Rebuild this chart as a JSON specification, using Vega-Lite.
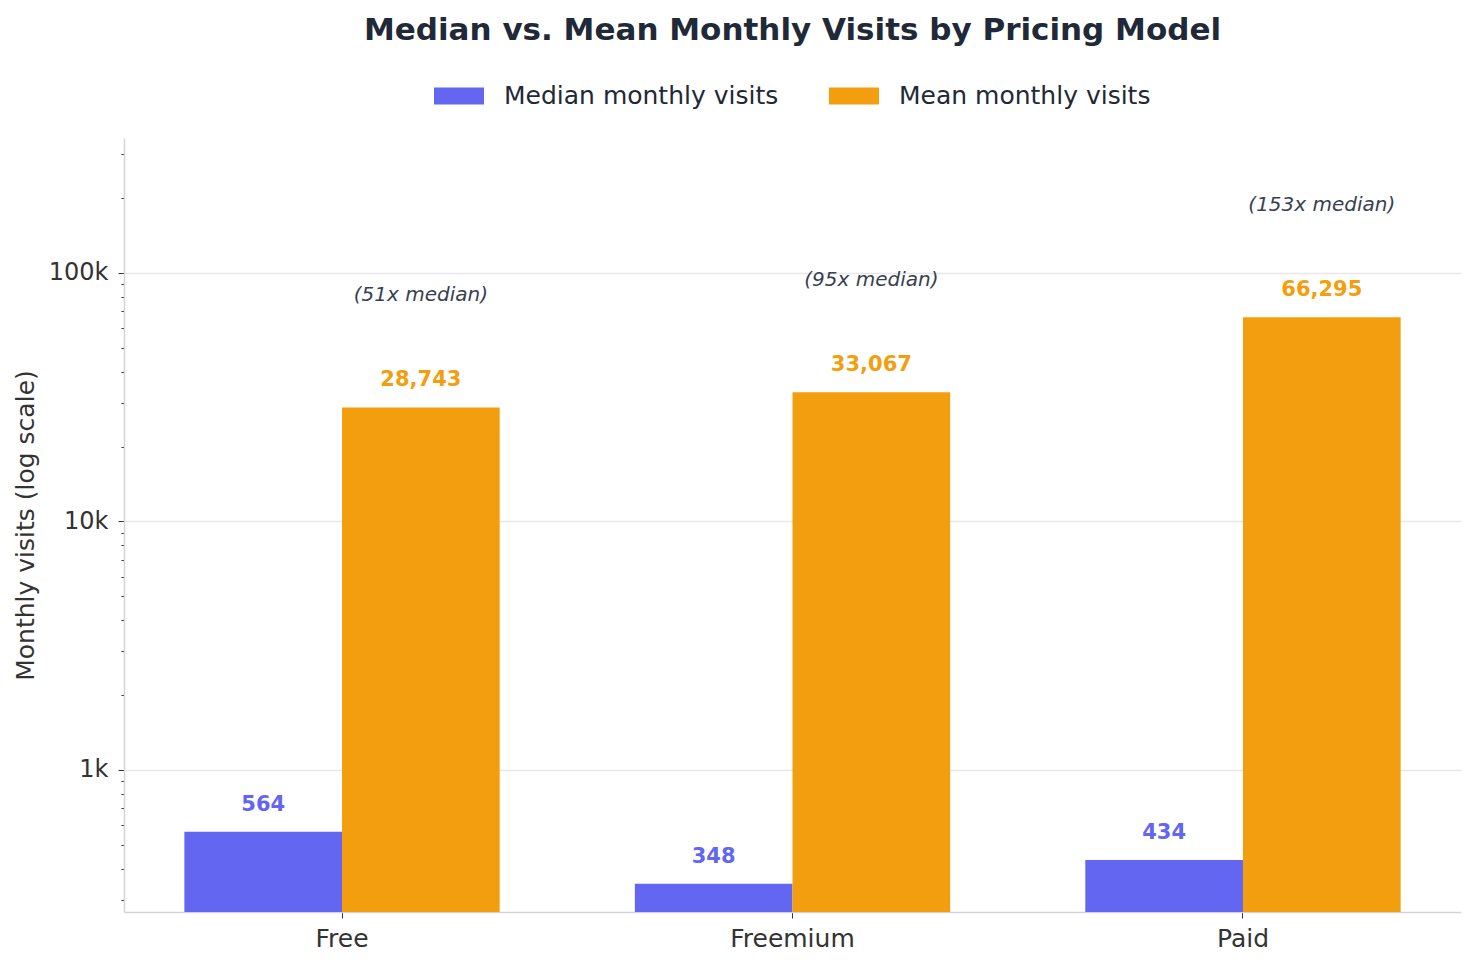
{
  "$schema": "https://vega.github.io/schema/vega-lite/v6.json",
  "width": 1337,
  "height": 774,
  "autosize": {"type": "none"},
  "padding": {"left": 124, "top": 138, "right": 15, "bottom": 54},
  "background": "white",
  "config": {
    "font": "DejaVu Sans",
    "view": {"stroke": null}
  },
  "title": {
    "text": "Median vs. Mean Monthly Visits by Pricing Model",
    "fontSize": 31,
    "fontWeight": "bold",
    "color": "#1f2937",
    "anchor": "middle",
    "offset": 24
  },
  "data": {
    "values": [
      {"pricing": "Free", "series": "Median monthly visits", "value": 564, "ratio": ""},
      {"pricing": "Free", "series": "Mean monthly visits", "value": 28743, "ratio": "(51x median)"},
      {"pricing": "Freemium", "series": "Median monthly visits", "value": 348, "ratio": ""},
      {"pricing": "Freemium", "series": "Mean monthly visits", "value": 33067, "ratio": "(95x median)"},
      {"pricing": "Paid", "series": "Median monthly visits", "value": 434, "ratio": ""},
      {"pricing": "Paid", "series": "Mean monthly visits", "value": 66295, "ratio": "(153x median)"}
    ]
  },
  "encoding": {
    "x": {
      "field": "pricing",
      "type": "nominal",
      "sort": ["Free", "Freemium", "Paid"],
      "scale": {"paddingInner": 0.3, "paddingOuter": 0.134},
      "axis": {
        "title": null,
        "labelAngle": 0,
        "labelFontSize": 25,
        "labelColor": "#333333",
        "labelPadding": 8,
        "tickSize": 6,
        "tickColor": "#333333",
        "domainColor": "#d1d5db",
        "domainWidth": 1.5,
        "grid": false
      }
    },
    "xOffset": {
      "field": "series",
      "type": "nominal",
      "sort": ["Median monthly visits", "Mean monthly visits"],
      "scale": {"paddingInner": 0, "paddingOuter": 0}
    },
    "y": {
      "field": "value",
      "type": "quantitative",
      "stack": null,
      "scale": {"type": "log", "domain": [268, 349000], "nice": false},
      "axis": {
        "title": "Monthly visits (log scale)",
        "titleFontSize": 25,
        "titleFontWeight": "normal",
        "titleColor": "#333333",
        "titlePadding": 10,
        "values": [300, 400, 500, 600, 700, 800, 900, 1000, 2000, 3000, 4000, 5000, 6000, 7000, 8000, 9000, 10000, 20000, 30000, 40000, 50000, 60000, 70000, 80000, 90000, 100000, 200000, 300000],
        "labelExpr": "datum.value == 1000 ? '1k' : datum.value == 10000 ? '10k' : datum.value == 100000 ? '100k' : ''",
        "labelFontSize": 24,
        "labelColor": "#333333",
        "labelPadding": 10,
        "tickColor": "#333333",
        "tickSize": {"condition": {"test": "datum.value == 1000 || datum.value == 10000 || datum.value == 100000", "value": 6}, "value": 3},
        "domainColor": "#d1d5db",
        "domainWidth": 1.5,
        "gridColor": "#e5e7eb",
        "gridWidth": 1.5,
        "gridOpacity": {"condition": {"test": "datum.value == 1000 || datum.value == 10000 || datum.value == 100000", "value": 1}, "value": 0}
      }
    }
  },
  "layer": [
    {
      "mark": {"type": "bar"},
      "encoding": {
        "color": {
          "field": "series",
          "type": "nominal",
          "sort": ["Median monthly visits", "Mean monthly visits"],
          "scale": {"domain": ["Median monthly visits", "Mean monthly visits"], "range": ["#6366f1", "#f39e0e"]},
          "legend": {
            "title": null,
            "orient": "none",
            "direction": "horizontal",
            "legendX": 310,
            "legendY": -67,
            "symbolType": "M-1,-0.34H1V0.34H-1Z",
            "symbolSize": 2500,
            "symbolStrokeWidth": 0,
            "labelFontSize": 25,
            "labelLimit": 600,
            "labelColor": "#1f2937",
            "labelOffset": 20,
            "columnPadding": 50
          }
        }
      }
    },
    {
      "mark": {"type": "text", "fontSize": 21, "fontWeight": "bold", "baseline": "middle", "dy": -27},
      "encoding": {
        "text": {"field": "value", "type": "quantitative", "format": ",.0f"},
        "color": {
          "field": "series",
          "type": "nominal",
          "scale": {"domain": ["Median monthly visits", "Mean monthly visits"], "range": ["#6366f1", "#f39e0e"]},
          "legend": null
        }
      }
    },
    {
      "transform": [{"filter": "datum.series == 'Mean monthly visits'"}],
      "mark": {"type": "text", "fontSize": 20, "fontStyle": "italic", "baseline": "middle", "dy": -112, "color": "#374151"},
      "encoding": {
        "text": {"field": "ratio", "type": "nominal"}
      }
    }
  ]
}
